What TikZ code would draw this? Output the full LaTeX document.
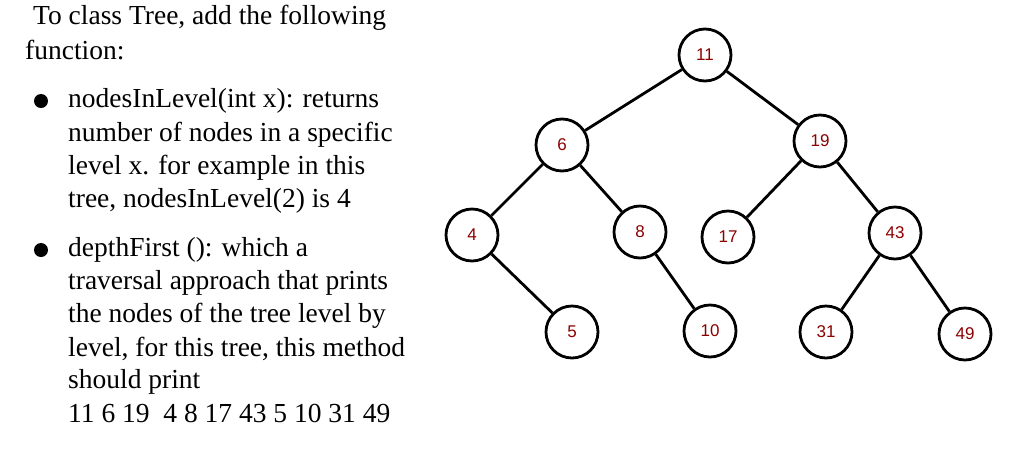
\documentclass[tikz,border=0pt]{standalone}
\usepackage{fontspec}
\setmainfont{Liberation Serif}
\newfontfamily\numfont{Liberation Sans}
\begin{document}
\begin{tikzpicture}[x=1pt,y=-1pt,
  tn/.style={circle,draw=black,line width=2.8pt,minimum size=52pt,inner sep=0pt,font=\numfont\fontsize{17}{17}\selectfont,text=red!55!black,fill=white},
  edge/.style={line width=2.8pt},
  txt/.style={anchor=west,inner sep=0pt,font=\fontsize{27.5}{27.5}\selectfont},
  bul/.style={circle,fill=black,minimum size=14pt,inner sep=0pt}]
\useasboundingbox (0,0) rectangle (1024,456);
\node[tn] (n11) at (705,55) {11};
\node[tn] (n6) at (562,145) {6};
\node[tn] (n19) at (820,141) {19};
\node[tn] (n4) at (472,235) {4};
\node[tn] (n8) at (640,232) {8};
\node[tn] (n17) at (728,237) {17};
\node[tn] (n43) at (895,233) {43};
\node[tn] (n5) at (572,332) {5};
\node[tn] (n10) at (710,331) {10};
\node[tn] (n31) at (826,332) {31};
\node[tn] (n49) at (965,334) {49};
\foreach \a/\b in {n11/n6,n11/n19,n6/n4,n6/n8,n19/n17,n19/n43,n4/n5,n8/n10,n43/n31,n43/n49}
  \draw[edge] (\a) -- (\b);
\node[txt] (t1) at (33,18) {To class Tree, add the following};
\node[txt] (t2) at (25,50) {function:};
\node[bul] (b1) at (41,101) {};
\node[txt] (a1) at (68,101) {nodesInLevel(int x): returns};
\node[txt] (a2) at (68,135) {number of nodes in a specific};
\node[txt] (a3) at (68,168) {level x. for example in this};
\node[txt] (a4) at (68,201) {tree, nodesInLevel(2) is 4};
\node[bul] (b2) at (41,250) {};
\node[txt] (c1) at (68,250) {depthFirst (): which a};
\node[txt] (c2) at (68,283) {traversal approach that prints};
\node[txt] (c3) at (68,316) {the nodes of the tree level by};
\node[txt] (c4) at (68,349) {level, for this tree, this method};
\node[txt] (c5) at (68,382) {should print};
\node[txt] (c6) at (68,413) {11 6 19\ \ 4 8 17 43 5 10 31 49};
\end{tikzpicture}
\end{document}
